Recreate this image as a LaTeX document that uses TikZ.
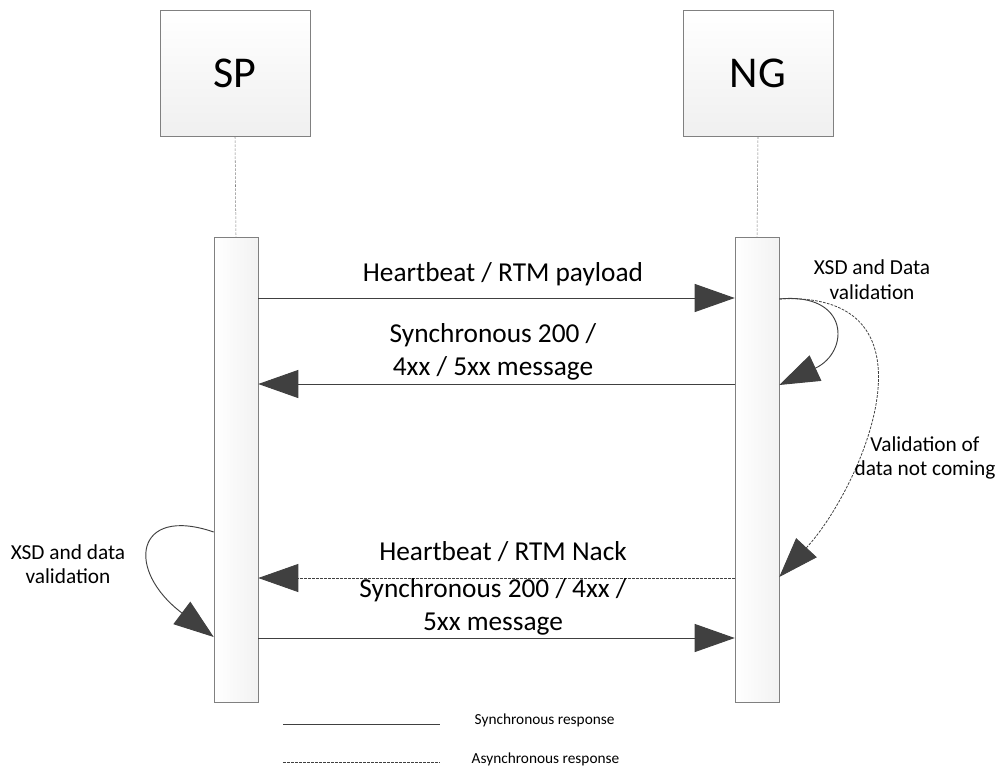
\documentclass[tikz,border=0pt]{standalone}
\usepackage{fontspec}
\setmainfont{Carlito}
\usepackage{tikz}
\usetikzlibrary{arrows.meta,positioning,calc}

\definecolor{linegray}{HTML}{404040}
\definecolor{edgegray}{HTML}{808080}

\begin{document}
\begin{tikzpicture}[x=0.75pt,y=-0.75pt,
    actor/.style={draw=edgegray, top color=white, bottom color=gray!12,
        minimum width=112.5pt, minimum height=94.5pt, font=\fontsize{33}{36}\selectfont},
    bar/.style={draw=edgegray, left color=white, right color=gray!10,
        minimum width=33pt, minimum height=348.75pt},
    tip/.style={-{Triangle[length=30pt,width=21pt]}},
    sync/.style={draw=linegray, line width=0.7pt, tip},
    async/.style={draw=linegray, line width=0.6pt, dash pattern=on 2pt off 1pt, tip},
    msg/.style={font=\fontsize{20.5}{25}\selectfont, align=center},
    note/.style={font=\fontsize{16}{18.5}\selectfont, align=center},
    legend/.style={font=\fontsize{11.5}{14}\selectfont}]

    \useasboundingbox (0,0) rectangle (995,774);

    % Actors
    \node[actor] (sp) at (235,73) {SP};
    \node[actor] (ng) at (758,73) {NG};

    % Activation bars
    \node[bar] (spbar) at (236,469.5) {};
    \node[bar] (ngbar) at (757,469.5) {};

    % Lifelines
    \draw[edgegray, dash pattern=on 2pt off 1pt] (sp.south) -- (spbar.north);
    \draw[edgegray, dash pattern=on 2pt off 1pt] (ng.south) -- (ngbar.north);

    % Messages
    \draw[sync] (spbar.east |- 0,298) -- (ngbar.west |- 0,298);
    \node[msg] (m1) at (503,274) {Heartbeat / RTM payload};

    \draw[sync] (ngbar.west |- 0,384) -- (spbar.east |- 0,384);
    \node[msg] (m2) at (493,352) {Synchronous 200 /\\4xx / 5xx message};

    \draw[async] (ngbar.west |- 0,578) -- (spbar.east |- 0,578);
    \node[msg] (m3) at (503,552) {Heartbeat / RTM Nack};

    \draw[sync] (spbar.east |- 0,638) -- (ngbar.west |- 0,638);
    \node[msg] (m4) at (493,607) {Synchronous 200 / 4xx /\\5xx message};

    % Self checks
    \draw[sync] (ngbar.east |- 0,299) .. controls (850,292) and (850,352) .. (ngbar.east |- 0,385);
    \node[note] (v1) at (872,280) {XSD and Data\\validation};

    \draw[async] (ngbar.east |- 0,299) .. controls (950,290) and (860,490) .. (ngbar.east |- 0,577);
    \node[note] (v2) at (925,458) {Validation of\\data not coming};

    \draw[sync] (spbar.west |- 0,532) .. controls (135,505) and (125,570) .. (spbar.west |- 0,637);
    \node[note] (v3) at (68,564) {XSD and data\\validation};

    % Legend
    \coordinate (l1a) at (283,724); \coordinate (l1b) at (440,724);
    \coordinate (l2a) at (283,762); \coordinate (l2b) at (440,762);
    \draw[linegray, line width=0.7pt] (l1a) -- (l1b);
    \draw[linegray, line width=0.6pt, dash pattern=on 2pt off 1pt] (l2a) -- (l2b);
    \node[legend, anchor=west] (s1) at (470,720) {Synchronous response};
    \node[legend, anchor=west] (s2) at (467,759) {Asynchronous response};
\end{tikzpicture}
\end{document}
